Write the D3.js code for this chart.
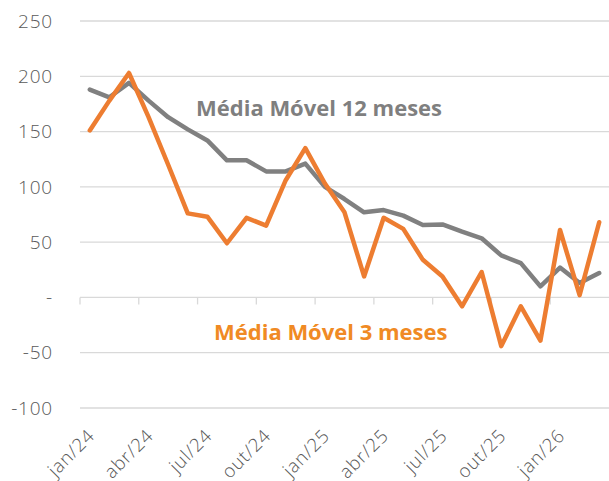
<!DOCTYPE html>
<html>
<head>
<meta charset="utf-8">
<script src="https://cdn.jsdelivr.net/npm/d3@7"></script>
<style>
  body { margin: 0; background: #fff; }
  svg { display: block; }
</style>
</head>
<body>
<svg id="chart" width="609" height="481"></svg>
<script>
// months jan/24 .. mar/26
var months = ['jan/24','fev/24','mar/24','abr/24','mai/24','jun/24','jul/24','ago/24','set/24','out/24','nov/24','dez/24',
              'jan/25','fev/25','mar/25','abr/25','mai/25','jun/25','jul/25','ago/25','set/25','out/25','nov/25','dez/25',
              'jan/26','fev/26','mar/26'];

var mm12 = [188, 181, 194, 178, 163, 152, 142, 124, 124, 114, 114, 121,
            100, 89, 77, 79, 74, 65.5, 66, 59.5, 53.5, 38, 31, 10, 27, 13, 22];

var mm3 = [151, 178, 203, 163, 120, 76, 73, 49, 72, 65, 106, 135,
           103, 77, 19, 72, 62, 34, 19, -8, 23, -44, -8, -39, 61, 2, 68];

var yTicks = [-100, -50, 0, 50, 100, 150, 200, 250];

var svg = d3.select('#chart');

var plotLeft = 80, plotRight = 609, plotTop = 21, plotBottom = 408;

var x = d3.scaleBand().domain(months).range([plotLeft, plotRight]).padding(0);
var y = d3.scaleLinear().domain([-100, 250]).range([plotBottom, plotTop]);

function cx(m) { return x(m) + x.bandwidth() / 2; }

// gridlines
svg.append('g')
    .selectAll('line')
    .data(yTicks)
    .join('line')
    .attr('x1', plotLeft)
    .attr('x2', plotRight)
    .attr('y1', function (d) { return y(d); })
    .attr('y2', function (d) { return y(d); })
    .attr('stroke', '#d9d9d9')
    .attr('stroke-width', 1.3);

// y labels
svg.append('g')
    .selectAll('text')
    .data(yTicks)
    .join('text')
    .attr('x', 53)
    .attr('y', function (d) { return y(d); })
    .attr('dy', '0.35em')
    .attr('text-anchor', 'end')
    .attr('font-family', 'Open Sans')
    .attr('font-weight', 300)
    .attr('font-size', 19)
    .attr('letter-spacing', 0.8)
    .attr('fill', '#595959')
    .text(function (d) { return d === 0 ? '-' : d; });

// x tick marks every 3 months
var tickMonths = months.filter(function (d, i) { return i % 3 === 0; });

svg.append('g')
    .selectAll('line')
    .data(tickMonths)
    .join('line')
    .attr('x1', function (d) { return x(d); })
    .attr('x2', function (d) { return x(d); })
    .attr('y1', y(0))
    .attr('y2', y(0) + 7)
    .attr('stroke', '#d9d9d9')
    .attr('stroke-width', 1.3);

// x labels
svg.append('g')
    .selectAll('text')
    .data(tickMonths)
    .join('text')
    .attr('transform', function (d) { return 'translate(' + (cx(d) + 6) + ',437) rotate(-45)'; })
    .attr('text-anchor', 'end')
    .attr('font-family', 'Open Sans')
    .attr('font-weight', 300)
    .attr('font-size', 18.5)
    .attr('letter-spacing', 0.8)
    .attr('fill', '#595959')
    .text(function (d) { return d; });

var line = d3.line()
    .x(function (d, i) { return cx(months[i]); })
    .y(function (d) { return y(d); });

svg.append('path')
    .datum(mm12)
    .attr('d', line)
    .attr('fill', 'none')
    .attr('stroke', '#808080')
    .attr('stroke-width', 4.5)
    .attr('stroke-linejoin', 'round')
    .attr('stroke-linecap', 'round');

svg.append('path')
    .datum(mm3)
    .attr('d', line)
    .attr('fill', 'none')
    .attr('stroke', '#ED7D31')
    .attr('stroke-width', 4.5)
    .attr('stroke-linejoin', 'round')
    .attr('stroke-linecap', 'round');

// series labels
svg.append('text')
    .attr('x', 196)
    .attr('y', 116)
    .attr('font-family', 'Open Sans')
    .attr('font-weight', 700)
    .attr('font-size', 22)
    .attr('fill', '#7f7f7f')
    .text('Média Móvel 12 meses');

svg.append('text')
    .attr('x', 214)
    .attr('y', 340)
    .attr('font-family', 'Open Sans')
    .attr('font-weight', 700)
    .attr('font-size', 22)
    .attr('fill', '#F08A24')
    .text('Média Móvel 3 meses');
</script>
</body>
</html>
